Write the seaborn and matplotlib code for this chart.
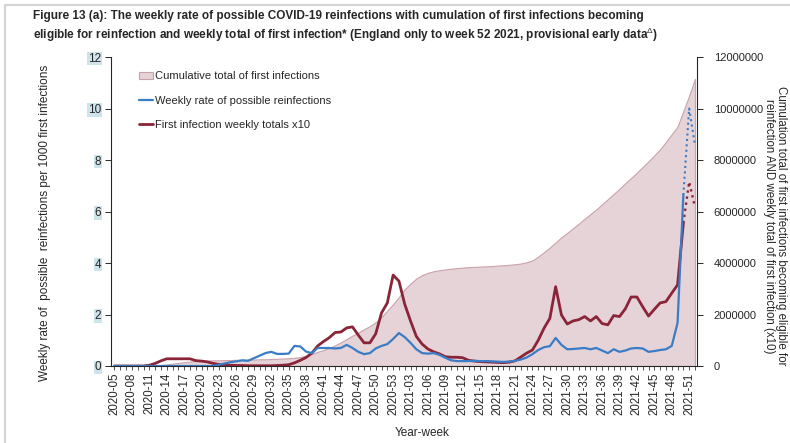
import matplotlib
matplotlib.use("Agg")
import matplotlib.pyplot as plt
from matplotlib.lines import Line2D
from matplotlib.patches import Patch
import numpy as np
import pandas as pd
import seaborn as sns

# ISO year-weeks: 2020 has 53 weeks
year_weeks = [f"2020-{w:02d}" for w in range(5, 54)] + [f"2021-{w:02d}" for w in range(1, 53)]

# Cumulative total of first infections eligible for reinfection (millions)
cumulative_first_infections_m = [
    0, 0, 0, 0, 0, 0, 0, 0.02, 0.04, 0.06,
    0.09, 0.12, 0.15, 0.17, 0.19, 0.20, 0.21, 0.22, 0.22, 0.23,
    0.23, 0.24, 0.24, 0.25, 0.25, 0.26, 0.26, 0.27, 0.28, 0.29,
    0.30, 0.32, 0.35, 0.40, 0.47, 0.55, 0.62, 0.70, 0.80, 0.92,
    1.05, 1.18, 1.30, 1.43, 1.55, 1.70, 1.90, 2.15, 2.40, 2.68,
    2.98, 3.20, 3.40, 3.53, 3.62, 3.68, 3.72, 3.75, 3.78, 3.80,
    3.82, 3.84, 3.85, 3.86, 3.87, 3.88, 3.90, 3.91, 3.93, 3.95,
    3.98, 4.03, 4.10, 4.25, 4.42, 4.60, 4.80, 5.00, 5.17, 5.35,
    5.53, 5.72, 5.90, 6.08, 6.28, 6.48, 6.68, 6.88, 7.10, 7.30,
    7.51, 7.73, 7.95, 8.18, 8.42, 8.70, 9.00, 9.30, 9.90, 10.50,
    11.15,
]

# Weekly rate of possible reinfections per 1000 first infections
reinfection_rate = [
    0, 0, 0, 0, 0, 0, 0, 0, 0, 0,
    0, 0, 0, 0, 0, 0, 0, 0, 0.05, 0.10,
    0.15, 0.18, 0.22, 0.20, 0.30, 0.40, 0.50, 0.55, 0.47, 0.47,
    0.48, 0.78, 0.76, 0.56, 0.50, 0.70, 0.70, 0.70, 0.68, 0.70,
    0.82, 0.70, 0.55, 0.46, 0.50, 0.68, 0.78, 0.85, 1.05, 1.28,
    1.12, 0.90, 0.65, 0.50, 0.48, 0.50, 0.43, 0.32, 0.22, 0.19,
    0.19, 0.19, 0.20, 0.19, 0.19, 0.18, 0.17, 0.16, 0.17, 0.20,
    0.25, 0.33, 0.46, 0.62, 0.73, 0.77, 1.09, 0.82, 0.65, 0.66,
    0.68, 0.70, 0.65, 0.70, 0.60, 0.50, 0.65, 0.55, 0.60, 0.68,
    0.70, 0.68, 0.55, 0.58, 0.62, 0.65, 0.78, 1.67, 6.64, 10.00,
    8.58,
]

# First infection weekly totals x10 (millions)
first_infections_x10_m = [
    0, 0, 0, 0, 0, 0, 0.03, 0.10, 0.20, 0.28,
    0.28, 0.28, 0.28, 0.28, 0.21, 0.19, 0.16, 0.10, 0.06, 0.04,
    0.03, 0.02, 0.02, 0.01, 0.01, 0.01, 0.01, 0.01, 0.02, 0.03,
    0.05, 0.12, 0.22, 0.33, 0.50, 0.78, 0.95, 1.10, 1.30, 1.32,
    1.48, 1.52, 1.20, 0.90, 0.90, 1.25, 2.06, 2.45, 3.53, 3.30,
    2.40, 1.75, 1.15, 0.85, 0.66, 0.55, 0.47, 0.36, 0.34, 0.34,
    0.32, 0.22, 0.19, 0.17, 0.16, 0.15, 0.14, 0.13, 0.15, 0.20,
    0.35, 0.50, 0.62, 1.00, 1.47, 1.85, 3.08, 1.98, 1.63, 1.75,
    1.80, 1.92, 1.75, 1.92, 1.65, 1.60, 1.96, 1.92, 2.22, 2.68,
    2.68, 2.30, 1.94, 2.20, 2.45, 2.50, 2.83, 3.15, 5.55, 7.15,
    6.17,
]

# Weeks from here onwards are provisional and drawn dotted
provisional_from = "2021-50"

title = ("Figure 13 (a): The weekly rate of possible COVID-19 reinfections with cumulation of first infections becoming\n"
         "eligible for reinfection and weekly total of first infection* (England only to week 52 2021, provisional early data$^{\\Delta}$)")
left_label = "Weekly rate of  possible  reinfections per 1000 first infections"
right_label = ("Cumulation total of first infections becoming eligible for\n"
               "reinfection AND weekly total of first infection (x10)")
legend_labels = ["Cumulative total of first infections",
                 "Weekly rate of possible reinfections",
                 "First infection weekly totals x10"]

fill_col = "#e6d3d7"
edge_col = "#c9a3ab"
blue = "#3a7cc6"
red = "#8a2438"

sns.set_theme(style="ticks")
plt.rcParams["font.family"] = ["Liberation Sans", "DejaVu Sans"]
plt.rcParams["mathtext.fontset"] = "custom"
plt.rcParams["mathtext.rm"] = "Liberation Sans"
plt.rcParams["mathtext.bf"] = "Liberation Sans:bold"

df = pd.DataFrame({
    "week": year_weeks,
    "pos": np.arange(len(year_weeks)),
    "cumulative": np.array(cumulative_first_infections_m) * 1e6,
    "rate": reinfection_rate,
    "first_x10": np.array(first_infections_x10_m) * 1e6,
})
p0 = year_weeks.index(provisional_from)
solid = df.iloc[:p0 + 1]
dotted = df.iloc[p0:]
dot_style = (0, (1.0, 1.6))

fig = plt.figure(figsize=(7.9, 4.43), dpi=100)
ax = fig.add_axes([111 / 790, 1 - 366 / 443, 586 / 790, 309 / 443])
ax2 = ax.twinx()
ax.set_zorder(ax2.get_zorder() + 1)
ax.patch.set_visible(False)

# right axis: cumulative area and first infections line
ax2.fill_between(df["pos"], df["cumulative"], color=fill_col, edgecolor=edge_col, linewidth=0.8)
sns.lineplot(data=solid, x="pos", y="first_x10", ax=ax2, color=red, linewidth=2.0)
sns.lineplot(data=dotted, x="pos", y="first_x10", ax=ax2, color=red, linewidth=1.7, linestyle=dot_style)

# left axis: reinfection rate
sns.lineplot(data=solid, x="pos", y="rate", ax=ax, color=blue, linewidth=1.6)
sns.lineplot(data=dotted, x="pos", y="rate", ax=ax, color=blue, linewidth=1.5, linestyle=dot_style)

ax.set_xlim(-0.6, 100.35)
ax.set_ylim(0, 12)
ax2.set_ylim(0, 12e6)
ax.set_yticks(range(0, 13, 2))
ax2.set_yticks(np.arange(0, 12e6 + 1, 2e6))
ax2.set_yticklabels([f"{int(v)}" for v in np.arange(0, 12e6 + 1, 2e6)])

ax.set_xticks(df["pos"][::3])
ax.set_xticklabels(df["week"][::3], rotation=90)
ax.set_xticks(df["pos"], minor=True)

ax.tick_params(axis="x", which="both", length=3, width=0.7, color="#555555", labelsize=8.3, pad=2)
ax.tick_params(axis="y", length=4, width=0.7, labelsize=8.5, pad=3)
ax2.tick_params(axis="y", length=4, width=0.7, labelsize=8, pad=8)

for lbl in ax.get_yticklabels():
    lbl.set_bbox(dict(facecolor="#cfe3eb", edgecolor="none", pad=0.6))

for a in (ax, ax2):
    a.spines["top"].set_visible(False)
    a.set_xlabel("")
    a.set_ylabel("")
ax.spines["right"].set_visible(False)
ax2.spines["left"].set_visible(False)
ax2.spines["bottom"].set_visible(False)
for s in ("left", "bottom"):
    ax.spines[s].set_linewidth(0.8)
ax2.spines["right"].set_linewidth(0.8)

handles = [Patch(facecolor=fill_col, edgecolor=edge_col, linewidth=0.8),
           Line2D([], [], color=blue, linewidth=1.6),
           Line2D([], [], color=red, linewidth=2.0)]
ax.legend(handles, legend_labels, loc="upper left", bbox_to_anchor=(0.04, 0.968),
          frameon=False, fontsize=8, handlelength=1.3, handletextpad=0.15,
          labelspacing=1.3, borderaxespad=0)

fig.text(33 / 790, 1 - 10 / 443, title, ha="left", va="top", fontsize=8.5,
         fontweight="bold", linespacing=1.3)
fig.text(45 / 790, 0.498, left_label, rotation=90, ha="center", va="center", fontsize=8.5)
fig.text(775 / 790, 0.49, right_label, rotation=270, ha="center", va="center",
         fontsize=8.3, multialignment="center", linespacing=1.05)
fig.text(422 / 790, 1 - 433 / 443, "Year-week", ha="center", va="center", fontsize=8.5)

# page edge lines
fig.add_artist(Line2D([5 / 790, 1], [1 - 5 / 443, 1 - 5 / 443], color="#d4d4d4", linewidth=1.5))
fig.add_artist(Line2D([5 / 790, 5 / 790], [0, 1 - 5 / 443], color="#d4d4d4", linewidth=1.5))

fig.savefig("out.png", dpi=100)
